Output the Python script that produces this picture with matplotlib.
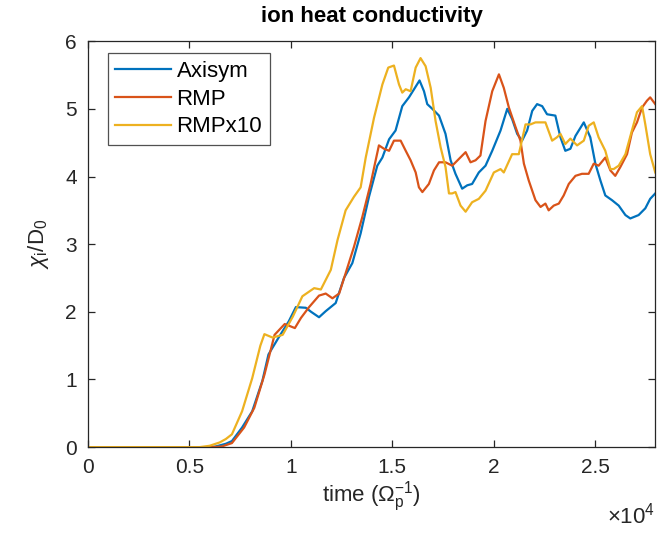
import numpy as np
import matplotlib
matplotlib.use("Agg")
import matplotlib.pyplot as plt
from matplotlib.ticker import FuncFormatter

plt.rcParams['font.family'] = ['Liberation Sans', 'DejaVu Sans']
plt.rcParams['mathtext.fontset'] = 'custom'
plt.rcParams['mathtext.rm'] = 'Liberation Sans'
plt.rcParams['mathtext.it'] = 'Liberation Sans:italic'

# time in units of 1e4 / Omega_p
t_axisym = [0, 0.60, 0.63, 0.68, 0.71, 0.76, 0.81, 0.86, 0.89, 0.94, 0.99, 1.025, 1.074,
            1.10, 1.139, 1.172, 1.221, 1.262, 1.303, 1.344, 1.385, 1.426, 1.451, 1.484,
            1.516, 1.549, 1.582, 1.607, 1.634, 1.656, 1.672, 1.697, 1.730, 1.762, 1.787,
            1.811, 1.844, 1.869, 1.893, 1.926, 1.959, 1.992, 2.033, 2.066, 2.090, 2.115,
            2.139, 2.164, 2.189, 2.213, 2.238, 2.262, 2.303, 2.328, 2.352, 2.377, 2.402,
            2.443, 2.475, 2.500, 2.525, 2.549, 2.582, 2.615, 2.648, 2.672, 2.713, 2.746,
            2.770, 2.795]
chi_axisym = [0, 0, 0.01, 0.05, 0.09, 0.29, 0.53, 0.98, 1.37, 1.62, 1.86, 2.07, 2.06,
              2.00, 1.92, 2.01, 2.13, 2.50, 2.72, 3.16, 3.70, 4.16, 4.28, 4.55,
              4.68, 5.04, 5.17, 5.29, 5.42, 5.26, 5.07, 5.00, 4.90, 4.63, 4.24,
              4.04, 3.82, 3.87, 3.89, 4.06, 4.16, 4.38, 4.68, 5.00, 4.85, 4.63,
              4.53, 4.68, 4.97, 5.07, 5.04, 4.92, 4.90, 4.58, 4.38, 4.41, 4.60,
              4.80, 4.58, 4.19, 3.94, 3.72, 3.65, 3.57, 3.43, 3.38, 3.43, 3.53,
              3.67, 3.75]

t_rmp = [0, 0.62, 0.66, 0.71, 0.77, 0.82, 0.87, 0.92, 0.97, 1.02, 1.05, 1.09, 1.139,
         1.172, 1.205, 1.238, 1.270, 1.311, 1.352, 1.393, 1.418, 1.434, 1.459, 1.484,
         1.508, 1.541, 1.566, 1.590, 1.615, 1.631, 1.648, 1.680, 1.705, 1.730, 1.762,
         1.795, 1.828, 1.861, 1.885, 1.910, 1.934, 1.959, 1.992, 2.025, 2.049, 2.074,
         2.107, 2.131, 2.148, 2.172, 2.205, 2.230, 2.254, 2.270, 2.295, 2.320, 2.344,
         2.369, 2.402, 2.434, 2.467, 2.492, 2.516, 2.549, 2.574, 2.598, 2.623, 2.656,
         2.680, 2.705, 2.730, 2.754, 2.770, 2.795]
chi_rmp = [0, 0, 0.01, 0.06, 0.29, 0.58, 1.07, 1.66, 1.82, 1.76, 1.91, 2.07, 2.24,
           2.27, 2.20, 2.27, 2.57, 2.96, 3.40, 3.89, 4.24, 4.46, 4.41, 4.38,
           4.53, 4.53, 4.38, 4.24, 4.06, 3.84, 3.77, 3.89, 4.09, 4.21, 4.21,
           4.16, 4.26, 4.36, 4.21, 4.24, 4.31, 4.82, 5.26, 5.51, 5.31, 5.02,
           4.73, 4.53, 4.19, 3.94, 3.65, 3.55, 3.60, 3.50, 3.57, 3.60, 3.72,
           3.89, 4.01, 4.04, 4.04, 4.19, 4.16, 4.28, 4.09, 4.01, 4.14, 4.33,
           4.65, 4.80, 5.02, 5.12, 5.17, 5.07]

t_rmp10 = [0, 0.55, 0.60, 0.65, 0.68, 0.71, 0.76, 0.81, 0.85, 0.87, 0.91, 0.96, 1.01,
           1.057, 1.115, 1.148, 1.197, 1.230, 1.270, 1.311, 1.344, 1.369, 1.410, 1.451,
           1.480, 1.508, 1.533, 1.549, 1.566, 1.590, 1.615, 1.639, 1.664, 1.689, 1.713,
           1.738, 1.762, 1.779, 1.795, 1.811, 1.836, 1.861, 1.893, 1.926, 1.959, 2.000,
           2.033, 2.049, 2.090, 2.123, 2.156, 2.180, 2.205, 2.254, 2.287, 2.311, 2.328,
           2.352, 2.377, 2.410, 2.443, 2.467, 2.492, 2.516, 2.549, 2.574, 2.590, 2.615,
           2.648, 2.680, 2.705, 2.730, 2.746, 2.770, 2.795]
chi_rmp10 = [0, 0, 0.02, 0.07, 0.12, 0.19, 0.53, 1.02, 1.50, 1.67, 1.62, 1.66, 1.93,
             2.23, 2.35, 2.33, 2.62, 3.06, 3.50, 3.70, 3.84, 4.28, 4.87, 5.36,
             5.61, 5.64, 5.36, 5.24, 5.29, 5.26, 5.61, 5.75, 5.63, 5.31, 4.82,
             4.43, 4.14, 3.75, 3.75, 3.77, 3.57, 3.48, 3.62, 3.67, 3.79, 4.06,
             4.11, 4.06, 4.33, 4.33, 4.77, 4.77, 4.80, 4.80, 4.53, 4.58, 4.63,
             4.48, 4.56, 4.46, 4.53, 4.75, 4.80, 4.58, 4.38, 4.11, 4.11, 4.16,
             4.33, 4.68, 4.95, 5.04, 4.77, 4.33, 4.06]

labels = ['Axisym', 'RMP', 'RMPx10']
colors = ['#0072BD', '#D95319', '#EDB120']
xticks = [0, 0.5, 1, 1.5, 2, 2.5]

fig = plt.figure(figsize=(6.7, 5.42), dpi=100)
ax = fig.add_axes([0.131, 0.175, 0.847, 0.749])

series = [(t_axisym, chi_axisym), (t_rmp, chi_rmp), (t_rmp10, chi_rmp10)]
for (t, c), lab, col in zip(series, labels, colors):
    ax.plot(np.array(t) * 1e4, c, color=col, lw=1.6, label=lab)

ax.set_xlim(0, 2.795e4)
ax.set_ylim(0, 6)
ax.set_xticks(np.array(xticks) * 1e4)
ax.xaxis.set_major_formatter(FuncFormatter(lambda v, p: '%g' % (v / 1e4)))

grey = '#262626'
for s in ax.spines.values():
    s.set_color(grey)
    s.set_linewidth(0.9)
ax.tick_params(direction='in', top=True, right=True, length=5, width=0.9,
               labelsize=15, colors=grey, pad=8)

ax.set_title('ion heat conductivity', fontsize=16, fontweight='bold', color='black', pad=14)
ax.set_xlabel(r'time ($\mathrm{\Omega_p^{-1}}$)', fontsize=16, color=grey, labelpad=2)
ax.set_ylabel(r'$\chi_\mathrm{i}\mathrm{/D_0}$', fontsize=16, color=grey, labelpad=10)
fig.text(0.978, 0.035, r'$\times\mathrm{10^4}$', fontsize=16, color=grey, ha='right')

leg = ax.legend(loc='upper left', fontsize=16, frameon=True, fancybox=False,
                edgecolor=grey, handlelength=2.5, handletextpad=0.25, borderpad=0.35,
                labelspacing=0.3, borderaxespad=0, bbox_to_anchor=(0.035, 0.97))
leg.get_frame().set_linewidth(0.9)

fig.savefig('out.png', dpi=100)
